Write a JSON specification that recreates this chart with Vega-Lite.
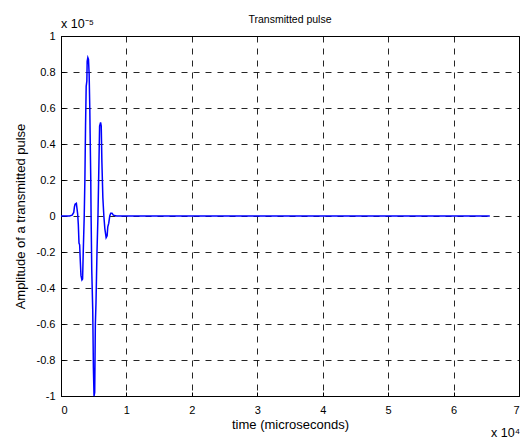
{
  "$schema": "https://vega.github.io/schema/vega-lite/v6.json",
  "width": 458,
  "height": 360,
  "autosize": {"type": "none"},
  "padding": {"left": 61, "top": 36, "right": 1, "bottom": 43},
  "background": "white",
  "title": {"text": "Transmitted pulse", "fontSize": 10.5, "fontWeight": "normal", "font": "Liberation Sans", "color": "black", "offset": -7},
  "config": {
    "view": {"stroke": "black", "strokeWidth": 1},
    "font": "Liberation Sans",
    "axis": {
      "labelFont": "Liberation Sans", "labelFontSize": 11, "labelColor": "black", "labelOverlap": false,
      "titleFont": "Liberation Sans", "titleFontSize": 13, "titleFontWeight": "normal", "titleColor": "black",
      "domainColor": "black", "tickColor": "black", "tickSize": -4,
      "gridColor": "black", "gridDash": [6, 6], "gridOpacity": 0.85, "zindex": 0
    }
  },
  "layer": [
    {
      "data": {"values": [
        {"t": 0, "amp": 0},
        {"t": 1300, "amp": 0},
        {"t": 1700, "amp": 0.005e-5},
        {"t": 1950, "amp": 0.02e-5},
        {"t": 2050, "amp": 0.05e-5},
        {"t": 2150, "amp": 0.065e-5},
        {"t": 2350, "amp": 0.07e-5},
        {"t": 2450, "amp": 0.04e-5},
        {"t": 2550, "amp": 0.01e-5},
        {"t": 2650, "amp": -0.05e-5},
        {"t": 2750, "amp": -0.15e-5},
        {"t": 2850, "amp": -0.16e-5},
        {"t": 2950, "amp": -0.25e-5},
        {"t": 3050, "amp": -0.33e-5},
        {"t": 3200, "amp": -0.355e-5},
        {"t": 3300, "amp": -0.35e-5},
        {"t": 3400, "amp": -0.2e-5},
        {"t": 3550, "amp": 0},
        {"t": 3650, "amp": 0.2e-5},
        {"t": 3750, "amp": 0.5e-5},
        {"t": 3850, "amp": 0.72e-5},
        {"t": 3950, "amp": 0.75e-5},
        {"t": 4000, "amp": 0.86e-5},
        {"t": 4100, "amp": 0.88e-5},
        {"t": 4200, "amp": 0.87e-5},
        {"t": 4300, "amp": 0.79e-5},
        {"t": 4400, "amp": 0.6e-5},
        {"t": 4450, "amp": 0.46e-5},
        {"t": 4550, "amp": 0.2e-5},
        {"t": 4600, "amp": 0},
        {"t": 4700, "amp": -0.3e-5},
        {"t": 4850, "amp": -0.52e-5},
        {"t": 4950, "amp": -0.84e-5},
        {"t": 5050, "amp": -1.0e-5},
        {"t": 5150, "amp": -0.98e-5},
        {"t": 5250, "amp": -0.6e-5},
        {"t": 5350, "amp": -0.48e-5},
        {"t": 5500, "amp": -0.2e-5},
        {"t": 5650, "amp": 0},
        {"t": 5800, "amp": 0.3e-5},
        {"t": 5900, "amp": 0.5e-5},
        {"t": 6050, "amp": 0.52e-5},
        {"t": 6150, "amp": 0.5e-5},
        {"t": 6250, "amp": 0.3e-5},
        {"t": 6400, "amp": 0.1e-5},
        {"t": 6550, "amp": 0},
        {"t": 6700, "amp": -0.07e-5},
        {"t": 6900, "amp": -0.12e-5},
        {"t": 7050, "amp": -0.11e-5},
        {"t": 7150, "amp": -0.06e-5},
        {"t": 7300, "amp": -0.04e-5},
        {"t": 7450, "amp": 0},
        {"t": 7600, "amp": 0.015e-5},
        {"t": 7800, "amp": 0.015e-5},
        {"t": 8000, "amp": 0.005e-5},
        {"t": 8500, "amp": 0},
        {"t": 65536, "amp": 0}
      ]},
      "mark": {"type": "line", "color": "#0000ff", "strokeWidth": 1.5, "interpolate": "linear"},
      "encoding": {
        "x": {"field": "t", "type": "quantitative",
          "scale": {"domain": [0, 70000], "nice": false, "zero": false},
          "axis": {"title": "time (microseconds)", "values": [0, 10000, 20000, 30000, 40000, 50000, 60000, 70000],
            "tickCount": 20, "zindex": 0,
            "labelExpr": "'' + round(datum.value / 10000)", "labelPadding": 12, "titlePadding": 3, "labelOverlap": false}},
        "y": {"field": "amp", "type": "quantitative",
          "scale": {"domain": [-1e-5, 1e-5], "nice": false, "zero": false},
          "axis": {"title": "Amplitude of a transmitted pulse",
            "values": [-1e-5, -0.8e-5, -0.6e-5, -0.4e-5, -0.2e-5, 0, 0.2e-5, 0.4e-5, 0.6e-5, 0.8e-5, 1e-5],
            "tickCount": 20, "zindex": 0,
            "labelExpr": "'' + round(datum.value * 1e6) / 10", "labelPadding": 10, "titlePadding": 9,
            "labelOverlap": false, "labelBound": false}}
      }
    },
    {
      "data": {"values": [{"t": 0, "amp": 1e-5, "label": "x 10⁻⁵"}]},
      "mark": {"type": "text", "align": "left", "baseline": "bottom", "dy": -5, "fontSize": 12.5, "font": "Liberation Sans", "color": "black"},
      "encoding": {
        "x": {"field": "t", "type": "quantitative"},
        "y": {"field": "amp", "type": "quantitative"},
        "text": {"field": "label"}
      }
    },
    {
      "data": {"values": [{"t": 70000, "amp": -1e-5, "label": "x 10⁴"}]},
      "mark": {"type": "text", "align": "right", "baseline": "middle", "dy": 37, "dx": 1, "fontSize": 12.5, "font": "Liberation Sans", "color": "black"},
      "encoding": {
        "x": {"field": "t", "type": "quantitative"},
        "y": {"field": "amp", "type": "quantitative"},
        "text": {"field": "label"}
      }
    }
  ]
}
